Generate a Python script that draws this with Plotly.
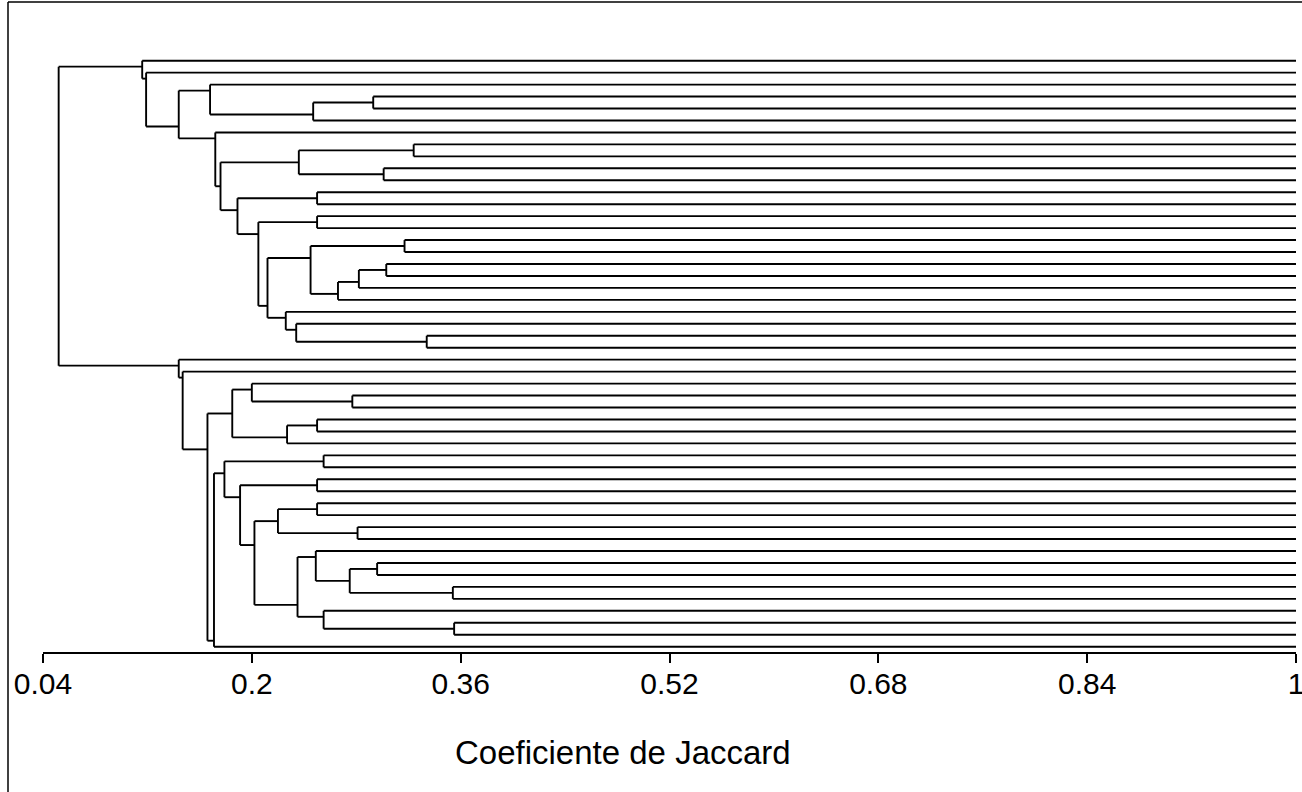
import plotly.graph_objects as go

# ---- data: dendrogram of 50 leaves (Jaccard similarity) ----
n_leaves = 50
node_names = ["G", "F", "D", "J", "K", "I", "N", "P", "S", "V", "U", "T", "R",
              "Y", "X", "W", "Q", "O", "M", "H", "E", "C", "B", "A",
              "Z5b", "Z5", "Z7", "Z6", "Z4", "Z10", "Z12", "Z15", "Z16", "Z14",
              "Z20", "Z21", "Z19", "Z18", "Z23", "Z22", "Z17", "Z13", "Z11",
              "Z9", "Z8", "Z3", "Z2", "Z1", "ROOT"]
node_upper = [4, "G", 3, 8, 10, "J", 12, 14, 16, 18, "V", "U", "S",
              24, 23, 22, "R", "P", "N", "I", 7, "D", 2, 1,
              29, 28, 31, "Z7", "Z5", 34, 36, 38, 40, "Z15",
              43, 45, "Z20", 42, 48, 47, "Z18", "Z14", "Z12",
              "Z10", "Z9", "Z4", 27, 26, "A"]
node_lower = [5, 6, "F", 9, 11, "K", 13, 15, 17, 19, 20, 21, "T",
              25, "Y", "X", "W", "Q", "O", "M", "H", "E", "C", "B",
              30, "Z5b", 32, 33, "Z6", 35, 37, 39, 41, "Z16",
              44, 46, "Z21", "Z19", 49, "Z23", "Z22", "Z17", "Z13",
              "Z11", 50, "Z8", "Z3", "Z2", "Z1"]
node_sim = [0.293, 0.247, 0.168, 0.324, 0.301, 0.236, 0.250, 0.250, 0.317, 0.303, 0.282, 0.266, 0.245,
            0.334, 0.234, 0.226, 0.212, 0.205, 0.189, 0.176, 0.172, 0.144, 0.119, 0.116,
            0.277, 0.200, 0.250, 0.227, 0.185, 0.255, 0.250, 0.250, 0.281, 0.220,
            0.296, 0.354, 0.275, 0.249, 0.355, 0.255, 0.235, 0.202, 0.191,
            0.179, 0.171, 0.166, 0.147, 0.144, 0.052]
leaf_end = 1.0
x_ticks = [0.04, 0.2, 0.36, 0.52, 0.68, 0.84, 1.0]
x_tick_labels = ["0.04", "0.2", "0.36", "0.52", "0.68", "0.84", "1"]
axis_title = "Coeficiente de Jaccard"

# ---- geometry from the tree ----
children = {n: (u, l) for n, u, l in zip(node_names, node_upper, node_lower)}
sim = dict(zip(node_names, node_sim))


def span(c):
    if isinstance(c, int):
        return (c, c)
    u, l = children[c]
    return (span(u)[0], span(l)[1])


def stem_y(c):
    if isinstance(c, int):
        return float(c)
    u, l = children[c]
    return (span(u)[1] + span(l)[0]) / 2.0


xs, ys = [], []
for n in node_names:
    u, l = children[n]
    xn = sim[n]
    xs += [xn, xn, None]
    ys += [stem_y(u), stem_y(l), None]
    for c in (u, l):
        xc = leaf_end if isinstance(c, int) else sim[c]
        yc = stem_y(c)
        xs += [xn, xc, None]
        ys += [yc, yc, None]

fig = go.Figure()
fig.add_trace(go.Scatter(x=xs, y=ys, mode="lines",
                         line=dict(color="black", width=1.9),
                         hoverinfo="skip", showlegend=False, cliponaxis=False))

W, H = 1302, 792
ml, mr, mt, mb = 43, 6, 48, 140
pw, ph = W - ml - mr, H - mt - mb


def px_x(p):
    return (p - ml) / pw


def px_y(p):
    return (H - mb - p) / ph


fig.update_layout(
    width=W, height=H,
    margin=dict(l=ml, r=mr, t=mt, b=mb, pad=0, autoexpand=False),
    plot_bgcolor="white", paper_bgcolor="white",
    showlegend=False,
    xaxis=dict(range=[0.04, 1.0], showline=True, linecolor="black", linewidth=1.5,
               ticks="outside", ticklen=9, tickwidth=1.5, tickcolor="black",
               tickvals=x_ticks, ticktext=x_tick_labels,
               ticklabeloverflow="allow", ticklabelstandoff=-5,
               tickfont=dict(family="Liberation Sans, Arial", size=30, color="black"),
               showgrid=False, zeroline=False, fixedrange=True),
    yaxis=dict(range=[n_leaves + 0.443, -0.06], visible=False, fixedrange=True),
    annotations=[dict(text=axis_title, xref="paper", yref="paper",
                      x=px_x(623), y=px_y(752), xanchor="center", yanchor="middle",
                      showarrow=False,
                      font=dict(family="Liberation Sans, Arial", size=33, color="black"))],
    shapes=[
        dict(type="line", xref="paper", yref="paper", x0=px_x(8), x1=px_x(1302),
             y0=px_y(2), y1=px_y(2), line=dict(color="black", width=1.5)),
        dict(type="line", xref="paper", yref="paper", x0=px_x(8), x1=px_x(8),
             y0=px_y(2), y1=px_y(792), line=dict(color="black", width=1.5)),
    ],
)

fig.write_html("out.html", config={"displayModeBar": False},
               post_script="document.body.style.margin='0px';document.body.style.overflow='hidden';")
